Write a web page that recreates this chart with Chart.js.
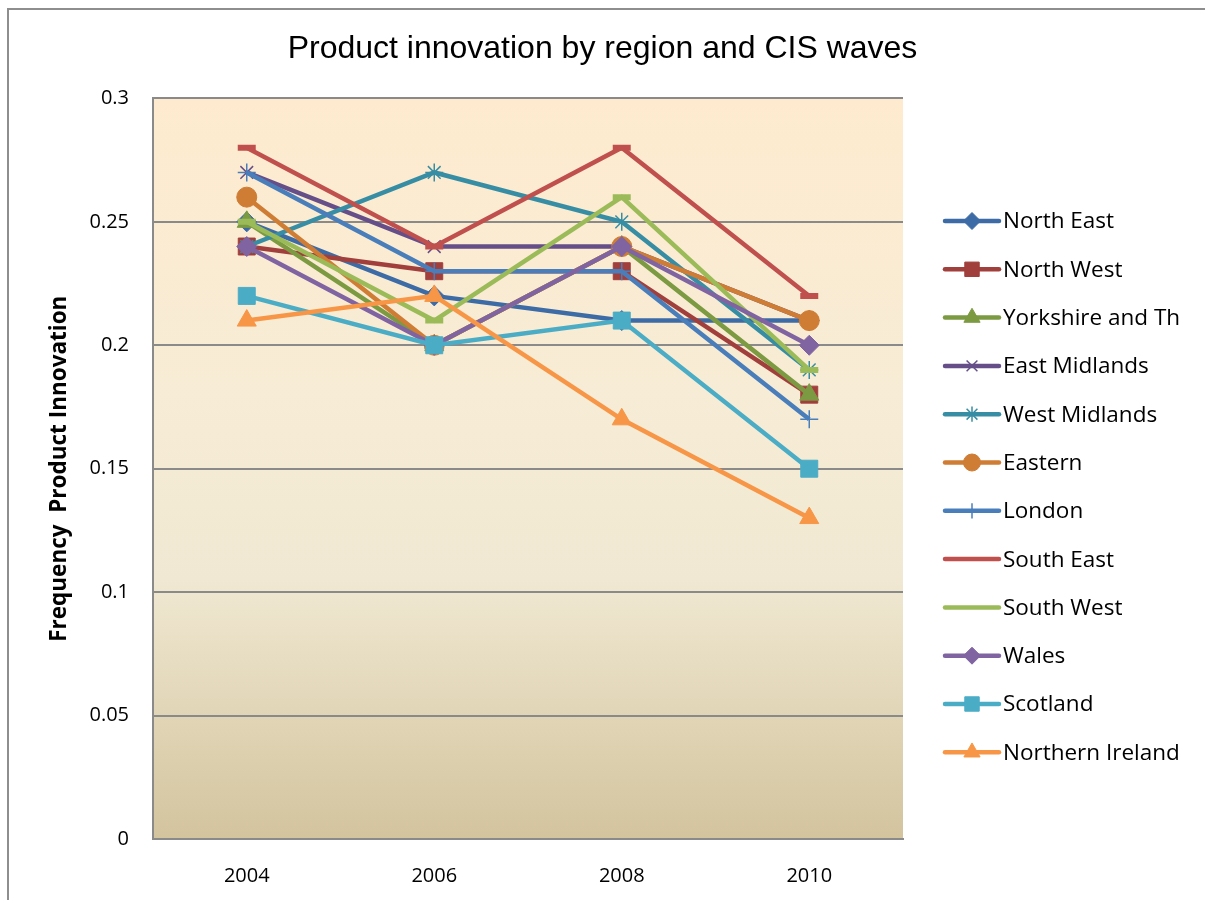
<!DOCTYPE html>
<html>
<head>
<meta charset="utf-8">
<script src="https://cdn.jsdelivr.net/npm/chart.js@4/dist/chart.umd.min.js"></script>
<style>
  html, body { margin: 0; padding: 0; background: #fff; overflow: hidden; }
  #wrap { position: relative; width: 1205px; height: 900px; }
  #frame { position: absolute; left: 7px; top: 8px; width: 1300px; height: 1000px;
           border-left: 2px solid #8e8e8e; border-top: 2px solid #8e8e8e; }
  #myChart { position: absolute; left: 0; top: 0; }
</style>
</head>
<body>
<div id="wrap">
  <div id="frame"></div>
  <canvas id="myChart" width="1205" height="900"></canvas>
</div>
<script>
// CIS waves
let years = ['2004', '2006', '2008', '2010']

// share of firms with product innovation, per region
let northEast = [0.25, 0.22, 0.21, 0.21]
let northWest = [0.24, 0.23, 0.23, 0.18]
let yorkshire = [0.25, 0.20, 0.24, 0.18]
let eastMidlands = [0.27, 0.24, 0.24, 0.21]
let westMidlands = [0.24, 0.27, 0.25, 0.19]
let eastern = [0.26, 0.20, 0.24, 0.21]
let london = [0.27, 0.23, 0.23, 0.17]
let southEast = [0.28, 0.24, 0.28, 0.22]
let southWest = [0.25, 0.21, 0.26, 0.19]
let wales = [0.24, 0.20, 0.24, 0.20]
let scotland = [0.22, 0.20, 0.21, 0.15]
let northernIreland = [0.21, 0.22, 0.17, 0.13]

let yTicks = [0, 0.05, 0.1, 0.15, 0.2, 0.25, 0.3]

const font = 'Open Sans'

function series(label, data, color, style, radius, border) {
  return {
    label: label,
    data: data,
    borderColor: color,
    backgroundColor: color,
    borderWidth: 4.5,
    pointStyle: style,
    pointRadius: radius,
    pointHoverRadius: radius,
    pointBorderColor: color,
    pointBackgroundColor: color,
    pointBorderWidth: border,
    tension: 0,
    fill: false
  }
}

let datasets = [
  series('North East', northEast, '#3d6ba6', 'rectRot', 10, 1),
  series('North West', northWest, '#a13f3c', 'rect', 12, 1),
  series('Yorkshire and Th', yorkshire, '#7c9a41', 'triangle', 11, 1),
  series('East Midlands', eastMidlands, '#664e89', 'crossRot', 9, 1.5),
  series('West Midlands', westMidlands, '#378ea4', 'star', 9, 1.5),
  series('Eastern', eastern, '#cf7c34', 'circle', 10, 1),
  series('London', london, '#4a7ebb', 'cross', 9, 1.5),
  series('South East', southEast, '#c0504d', 'line', 9, 6),
  series('South West', southWest, '#9bbb59', 'line', 9, 6),
  series('Wales', wales, '#8064a2', 'rectRot', 10, 1),
  series('Scotland', scotland, '#4bacc6', 'rect', 12, 1),
  series('Northern Ireland', northernIreland, '#f79646', 'triangle', 11, 1)
]
// later regions sit on top of earlier ones
datasets.forEach((d, i) => { d.order = -i })

// gradient fill behind the plot
const plotBackground = {
  id: 'plotBackground',
  beforeDraw(chart) {
    let {ctx, chartArea: a} = chart
    let g = ctx.createLinearGradient(0, a.top, 0, a.bottom)
    g.addColorStop(0, '#feebcf')
    g.addColorStop(0.45, '#f6ecd6')
    g.addColorStop(0.65, '#f0e8d2')
    g.addColorStop(1, '#d3c49e')
    ctx.save()
    ctx.fillStyle = g
    ctx.fillRect(a.left, a.top, a.right - a.left, a.bottom - a.top)
    ctx.restore()
  }
}

// legend on the right: line with the series marker in the middle
const sideLegend = {
  id: 'sideLegend',
  afterDraw(chart) {
    let ctx = chart.ctx
    ctx.save()
    chart.data.datasets.forEach((d, i) => {
      let y = 221 + i * 48.3
      ctx.strokeStyle = d.borderColor
      ctx.lineWidth = 4.5
      ctx.lineCap = 'round'
      ctx.beginPath()
      ctx.moveTo(945, y)
      ctx.lineTo(999, y)
      ctx.stroke()
      ctx.lineCap = 'butt'
      if (d.pointStyle != 'line') {
        ctx.fillStyle = d.pointBackgroundColor
        ctx.strokeStyle = d.pointBorderColor
        ctx.lineWidth = d.pointBorderWidth
        Chart.helpers.drawPoint(ctx, {
          pointStyle: d.pointStyle,
          radius: d.pointRadius * 0.85,
          borderWidth: d.pointBorderWidth,
          rotation: 0
        }, 972, y)
      }
      ctx.fillStyle = '#000'
      ctx.font = '22.5px ' + font
      ctx.textAlign = 'left'
      ctx.textBaseline = 'middle'
      ctx.fillText(d.label, 1003, y + 1)
    })
    ctx.restore()
  }
}

let ctx = document.getElementById('myChart').getContext('2d')

let myLineChart = new Chart(ctx, {
  type: 'line',
  data: {
    labels: years,
    datasets: datasets
  },
  plugins: [plotBackground, sideLegend],
  options: {
    responsive: false,
    animation: false,
    layout: {
      padding: {left: 0, right: 0, top: 0, bottom: 0}
    },
    plugins: {
      legend: {display: false},
      tooltip: {enabled: false},
      title: {
        display: true,
        text: 'Product innovation by region and CIS waves',
        color: '#000',
        font: {family: 'Liberation Sans', size: 32, weight: 'normal', lineHeight: 1.2},
        padding: {top: 30, bottom: 30}
      }
    },
    scales: {
      x: {
        offset: true,
        grid: {display: false, drawTicks: false},
        border: {display: true, color: '#8a8a8a', width: 2},
        ticks: {color: '#000', font: {family: font, size: 20}, padding: 25},
        afterFit(scale) { scale.height = 61 }
      },
      y: {
        min: 0,
        max: 0.3,
        afterBuildTicks(scale) { scale.ticks = yTicks.map(v => ({value: v})) },
        grid: {color: '#8a8a8a', lineWidth: 2, drawTicks: false},
        border: {display: true, color: '#8a8a8a', width: 2},
        ticks: {
          color: '#000',
          font: {family: font, size: 20},
          padding: 24,
          callback: v => String(v)
        },
        title: {
          display: true,
          text: 'Frequency  Product Innovation',
          color: '#000',
          font: {family: font, size: 22.5, weight: 'bold', lineHeight: 1.2},
          padding: {top: 46, bottom: 0}
        },
        afterFit(scale) { scale.width = 153 }
      },
      // empty right-hand strip that holds the legend
      side: {
        position: 'right',
        display: true,
        grid: {display: false, drawTicks: false},
        border: {display: false},
        ticks: {display: false},
        afterFit(scale) { scale.width = 302 }
      }
    }
  }
})
</script>
</body>
</html>
